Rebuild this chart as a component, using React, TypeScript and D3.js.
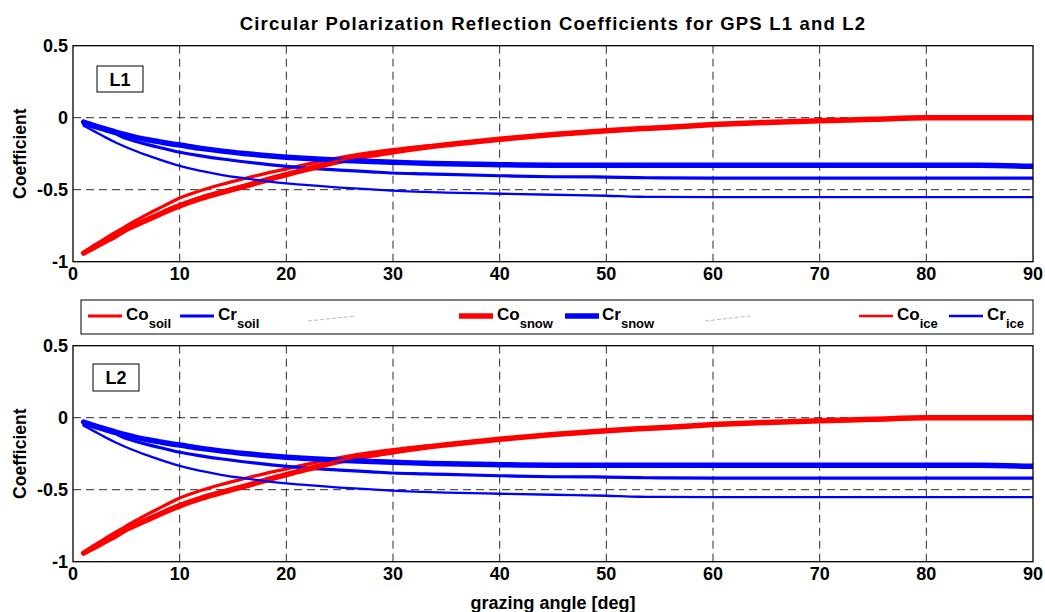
import React from "react";
import * as d3 from "d3";

const angles = [1,2,3,4,5,6,7,8,9,10,12,14,16,18,20,22,25,28,30,33,35,40,45,50,53,55,60,65,70,75,80,85,90];

const coSoil = [-0.935,-0.885,-0.84,-0.795,-0.752,-0.71,-0.67,-0.632,-0.594,-0.558,-0.505,-0.462,-0.424,-0.388,-0.355,-0.322,-0.277,-0.241,-0.222,-0.198,-0.184,-0.149,-0.116,-0.089,-0.076,-0.069,-0.047,-0.032,-0.02,-0.01,0,0,0];
const crSoil = [-0.045,-0.068,-0.09,-0.112,-0.145,-0.167,-0.187,-0.205,-0.223,-0.24,-0.265,-0.287,-0.306,-0.323,-0.338,-0.35,-0.364,-0.376,-0.384,-0.39,-0.394,-0.403,-0.41,-0.412,-0.416,-0.418,-0.419,-0.419,-0.419,-0.419,-0.419,-0.419,-0.419];
const coSnow = [-0.94,-0.9,-0.86,-0.82,-0.775,-0.742,-0.708,-0.675,-0.642,-0.612,-0.56,-0.518,-0.478,-0.436,-0.395,-0.357,-0.303,-0.26,-0.236,-0.205,-0.188,-0.15,-0.117,-0.09,-0.077,-0.07,-0.048,-0.033,-0.021,-0.011,-0.001,0,0];
const crSnow = [-0.03,-0.055,-0.078,-0.1,-0.12,-0.138,-0.153,-0.166,-0.179,-0.19,-0.213,-0.232,-0.248,-0.262,-0.274,-0.284,-0.296,-0.305,-0.31,-0.316,-0.32,-0.326,-0.33,-0.331,-0.331,-0.331,-0.331,-0.331,-0.331,-0.331,-0.331,-0.331,-0.338];
const coIce = [-0.935,-0.892,-0.85,-0.81,-0.765,-0.732,-0.697,-0.664,-0.631,-0.6,-0.549,-0.507,-0.468,-0.427,-0.387,-0.35,-0.297,-0.255,-0.232,-0.202,-0.186,-0.149,-0.116,-0.089,-0.076,-0.069,-0.047,-0.032,-0.02,-0.01,0,0,0];
const crIce = [-0.055,-0.095,-0.135,-0.172,-0.205,-0.235,-0.262,-0.288,-0.312,-0.335,-0.37,-0.398,-0.42,-0.44,-0.456,-0.468,-0.485,-0.498,-0.507,-0.515,-0.52,-0.528,-0.535,-0.542,-0.549,-0.55,-0.551,-0.551,-0.551,-0.551,-0.551,-0.551,-0.551];

// L2 values (visually identical to L1)
const coSoilL2 = coSoil.slice();
const crSoilL2 = crSoil.slice();
const coSnowL2 = coSnow.slice();
const crSnowL2 = crSnow.slice();
const coIceL2 = coIce.slice();
const crIceL2 = crIce.slice();

const xTicks = [0,10,20,30,40,50,60,70,80,90];
const yTicks = [0.5,0,-0.5,-1];
const yTickLabels = ["0.5","0","-0.5","-1"];

const seriesNames = ["Co","Cr","Co","Cr","Co","Cr"];
const seriesSubs = ["soil","soil","snow","snow","ice","ice"];
const seriesColors = ["#ff0000","#0000ff","#ff0000","#0000ff","#ff0000","#0000ff"];

const FONT = "'Liberation Sans', Arial, Helvetica, sans-serif";
const W = 1045, H = 612;
const X0 = 73, X1 = 1033;
const widths = [3.2, 3.2, 5.5, 5.5, 2.3, 2.3];

const x = d3.scaleLinear().domain([0, 90]).range([X0, X1]);

function Panel({ top, bottom, label, boxX, boxY, boxW, boxH, data, id }) {
  const y = d3.scaleLinear().domain([-1, 0.5]).range([bottom, top]);
  const line = d3.line<number>().x((_, i) => x(angles[i])).y((v) => y(v)).curve(d3.curveMonotoneX);
  return (
    <g>
      <defs>
        <clipPath id={id}>
          <rect x={X0} y={top} width={X1 - X0} height={bottom - top} />
        </clipPath>
      </defs>
      {xTicks.slice(1, -1).map((t) => (
        <line key={"gx" + t} x1={x(t)} x2={x(t)} y1={top} y2={bottom} stroke="#2a2a2a" strokeWidth={1} strokeDasharray="8,5" />
      ))}
      {yTicks.slice(1, -1).map((t) => (
        <line key={"gy" + t} x1={X0} x2={X1} y1={y(t)} y2={y(t)} stroke="#2a2a2a" strokeWidth={1} strokeDasharray="8,5" />
      ))}
      <g clipPath={`url(#${id})`}>
        {data.map((d, i) => (
          <path key={i} d={line(d) || ""} fill="none" stroke={seriesColors[i]} strokeWidth={widths[i]} strokeLinejoin="round" strokeLinecap="round" />
        ))}
      </g>
      <rect x={X0} y={top} width={X1 - X0} height={bottom - top} fill="none" stroke="#000" strokeWidth={1.3} />
      {yTicks.map((t, i) => (
        <text key={"yl" + t} x={68} y={y(t) + 6} textAnchor="end" fontFamily={FONT} fontWeight="bold" fontSize={18}>{yTickLabels[i]}</text>
      ))}
      {xTicks.map((t) => (
        <text key={"xl" + t} x={x(t)} y={bottom + 18.5} textAnchor="middle" fontFamily={FONT} fontWeight="bold" fontSize={18}>{t}</text>
      ))}
      <text transform={`translate(26,${(top + bottom) / 2}) rotate(-90)`} textAnchor="middle" fontFamily={FONT} fontWeight="bold" fontSize={17.5}>Coefficient</text>
      <rect x={boxX} y={boxY} width={boxW} height={boxH} fill="#fff" stroke="#000" strokeWidth={1} />
      <text x={boxX + boxW / 2} y={boxY + boxH / 2 + 6.5} textAnchor="middle" fontFamily={FONT} fontWeight="bold" fontSize={18}>{label}</text>
    </g>
  );
}

export default function App() {
  const legendPos = [
    { l: 88, t: 126 },
    { l: 180, t: 218 },
    { l: 459, t: 497 },
    { l: 565, t: 602 },
    { l: 859, t: 897 },
    { l: 949, t: 987 },
  ];
  const ly = 316;
  return (
    <svg width={W} height={H} style={{ position: "absolute", left: 0, top: 0, background: "#fff" }}>
      <rect x={0} y={0} width={W} height={H} fill="#fff" />
      <text x={553} y={30} textAnchor="middle" fontFamily={FONT} fontWeight="bold" fontSize={18.5} letterSpacing={1.2}>
        Circular Polarization Reflection Coefficients for GPS L1 and L2
      </text>
      <Panel id="c1" top={45.7} bottom={261.7} label="L1" boxX={97} boxY={66} boxW={46} boxH={26}
        data={[coSoil, crSoil, coSnow, crSnow, coIce, crIce]} />
      <Panel id="c2" top={345.7} bottom={561.7} label="L2" boxX={93} boxY={364} boxW={46} boxH={27}
        data={[coSoilL2, crSoilL2, coSnowL2, crSnowL2, coIceL2, crIceL2]} />
      <rect x={81} y={300} width={952} height={34} fill="#fff" stroke="#000" strokeWidth={1} />
      <line x1={308} y1={321} x2={355} y2={316} stroke="#bbb" strokeWidth={1} strokeDasharray="4,2" />
      <line x1={705} y1={321} x2={750} y2={316} stroke="#bbb" strokeWidth={1} strokeDasharray="4,2" />
      {legendPos.map((p, i) => (
        <g key={"lg" + i}>
          <line x1={p.l} x2={p.l + 34} y1={ly} y2={ly} stroke={seriesColors[i]} strokeWidth={widths[i]} />
          <text x={p.t} y={320} fontFamily={FONT} fontWeight="bold" fontSize={17}>
            {seriesNames[i]}
            <tspan dy={8} fontSize={13}>{seriesSubs[i]}</tspan>
          </text>
        </g>
      ))}
      <text x={553} y={609} textAnchor="middle" fontFamily={FONT} fontWeight="bold" fontSize={18}>grazing angle [deg]</text>
    </svg>
  );
}
